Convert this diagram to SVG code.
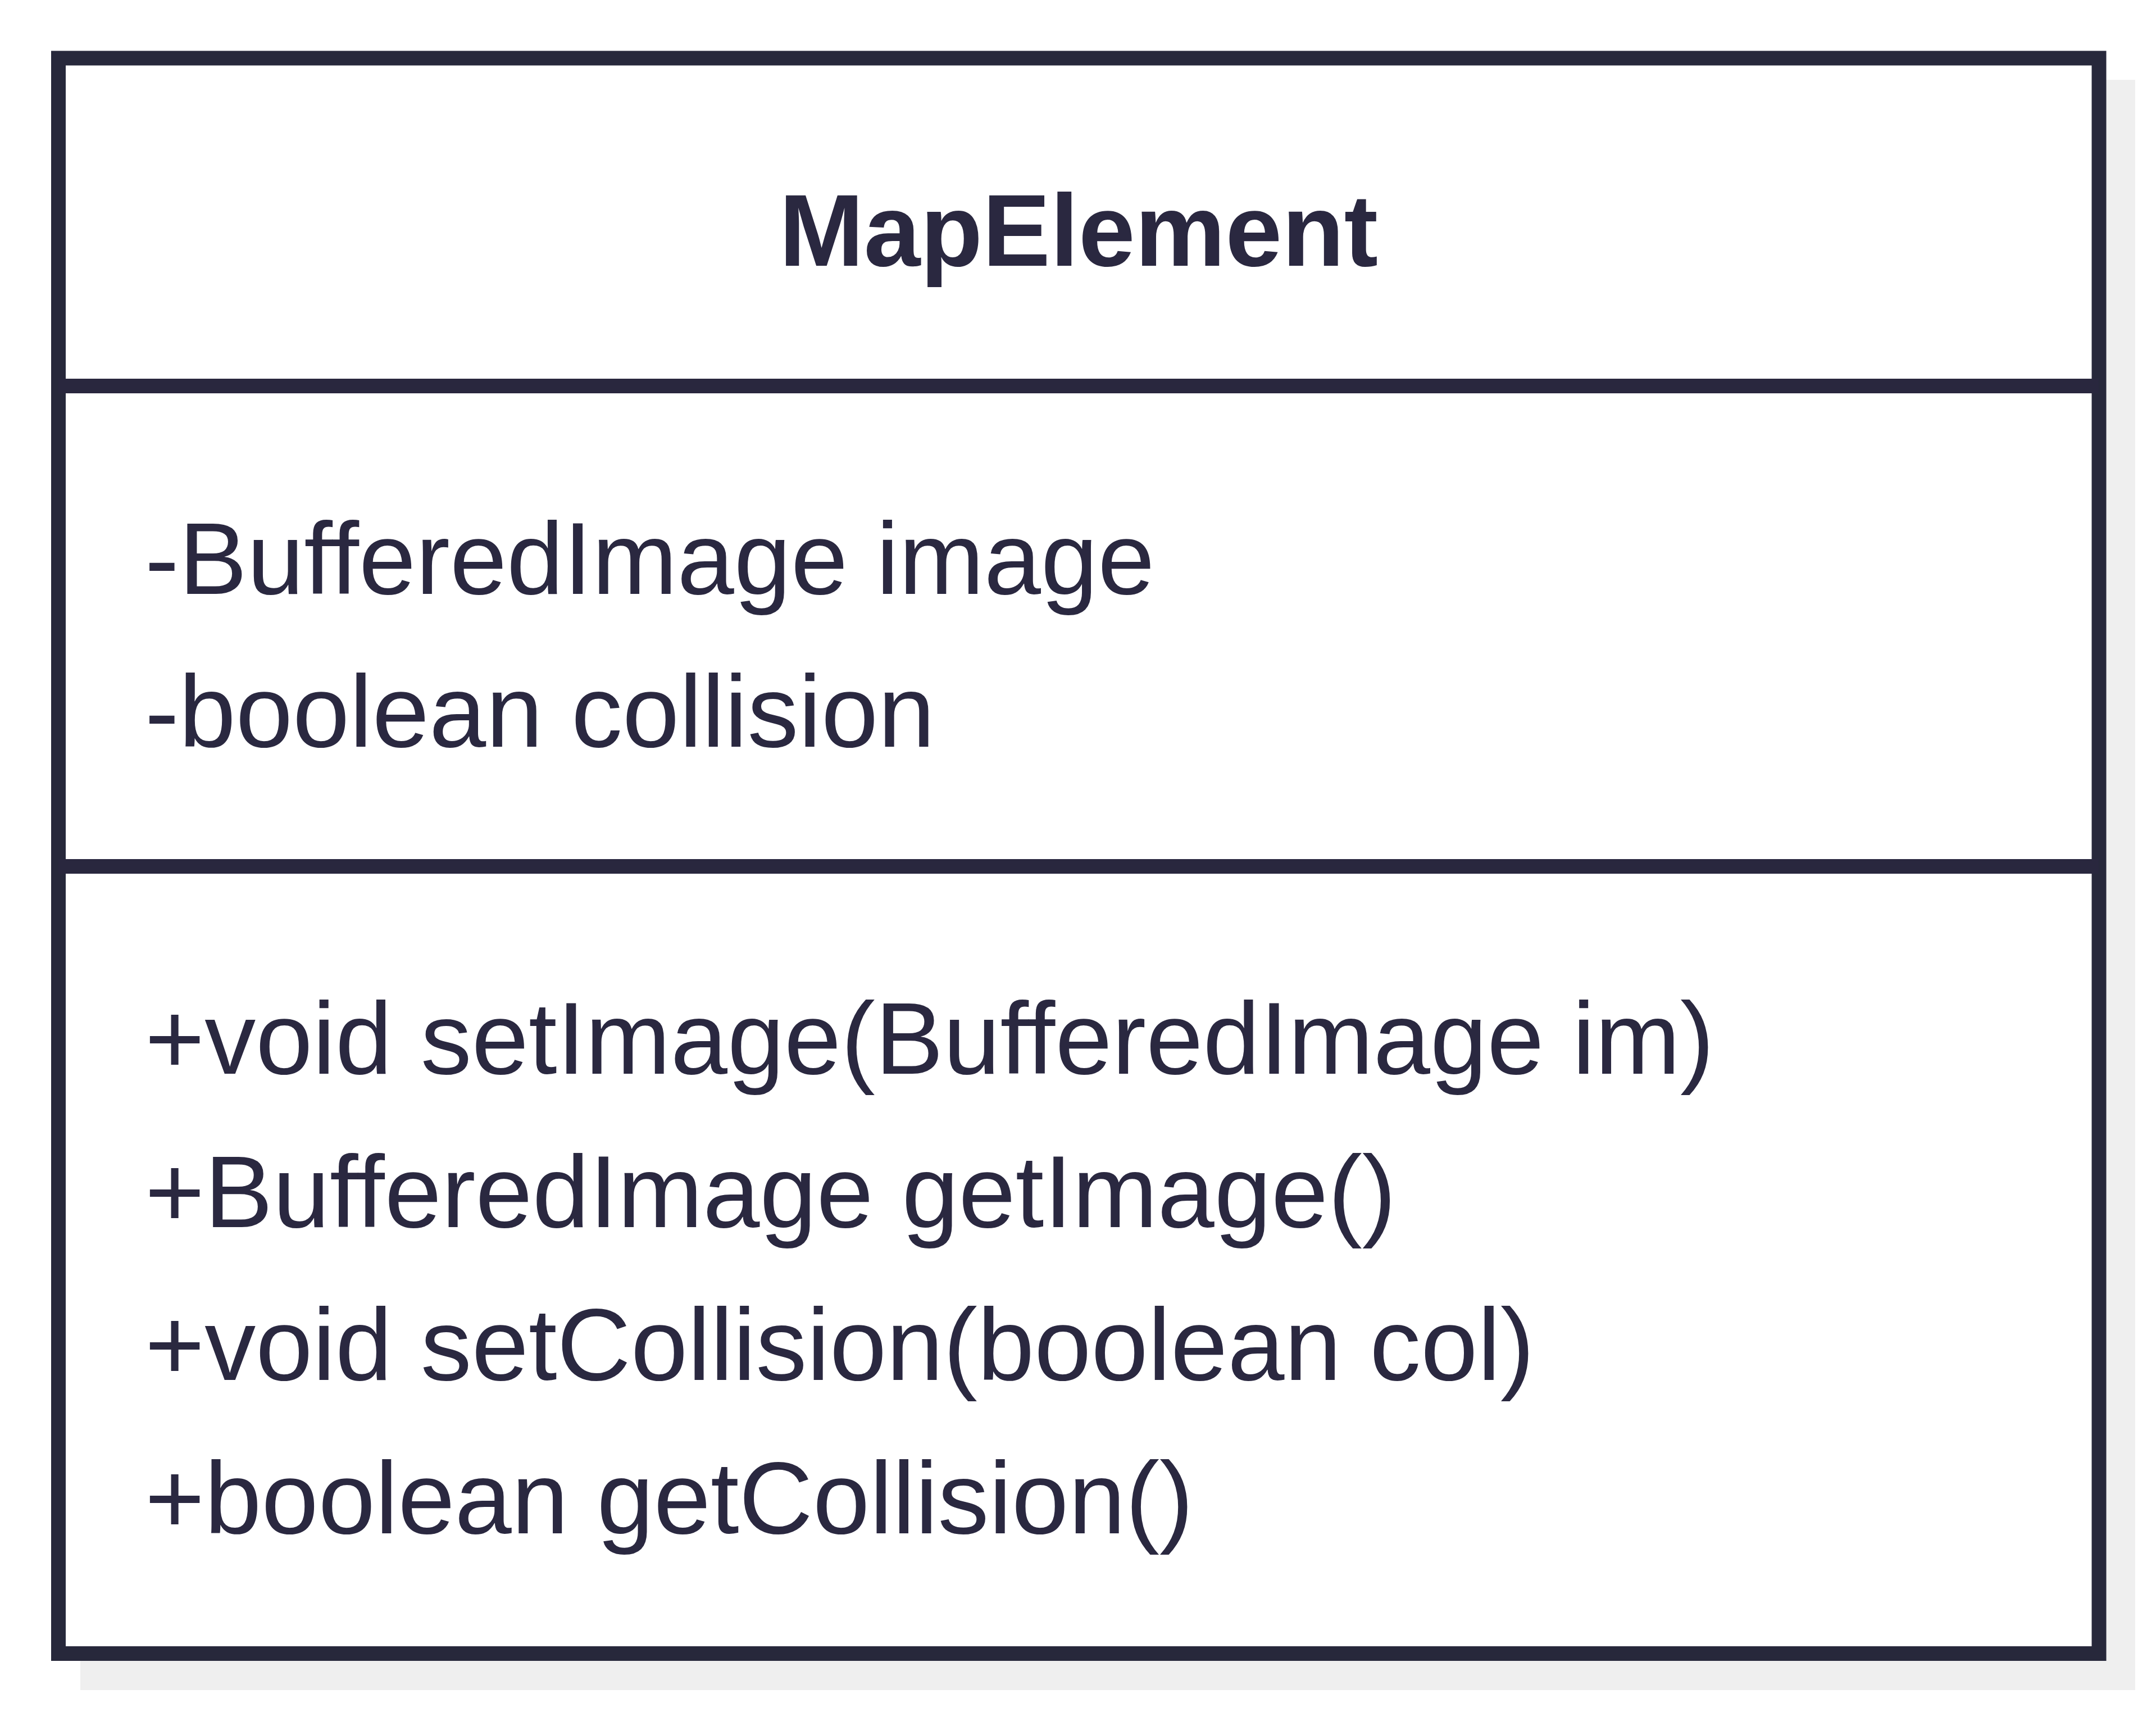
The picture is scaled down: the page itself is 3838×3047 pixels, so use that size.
<svg xmlns="http://www.w3.org/2000/svg" width="3838" height="3047" viewBox="0 0 3838 3047">
<style>
.box{fill:#ffffff;stroke:#27283b;stroke-width:26}
.div{stroke:#29273e;stroke-width:26}
.shadow{fill:#efefef}
.t{font-family:"Liberation Sans",Arial,sans-serif;font-size:182px;fill:#2a2840}
.title{font-weight:bold;text-anchor:middle;font-size:181px}
</style>
<rect width="3838" height="3047" fill="#ffffff"/>
<g id="MapElement">
<rect class="shadow" x="143" y="142" width="3658" height="2866"/>
<rect class="box" x="104" y="103.5" width="3632.5" height="2839.5"/>
<line class="div" x1="104" y1="687" x2="3736.5" y2="687"/>
<line class="div" x1="104" y1="1542" x2="3736.5" y2="1542"/>
<text class="t title" x="1920" y="473">MapElement</text>
<text class="t" x="258" y="1057">-BufferedImage image</text>
<text class="t" x="258" y="1329">-boolean collision</text>
<text class="t" x="258" y="1911">+void setImage(BufferedImage im)</text>
<text class="t" x="258" y="2184">+BufferedImage getImage()</text>
<text class="t" x="258" y="2456">+void setCollision(boolean col)</text>
<text class="t" x="258" y="2729">+boolean getCollision()</text>
</g>
<g id="connectors"/>
</svg>
